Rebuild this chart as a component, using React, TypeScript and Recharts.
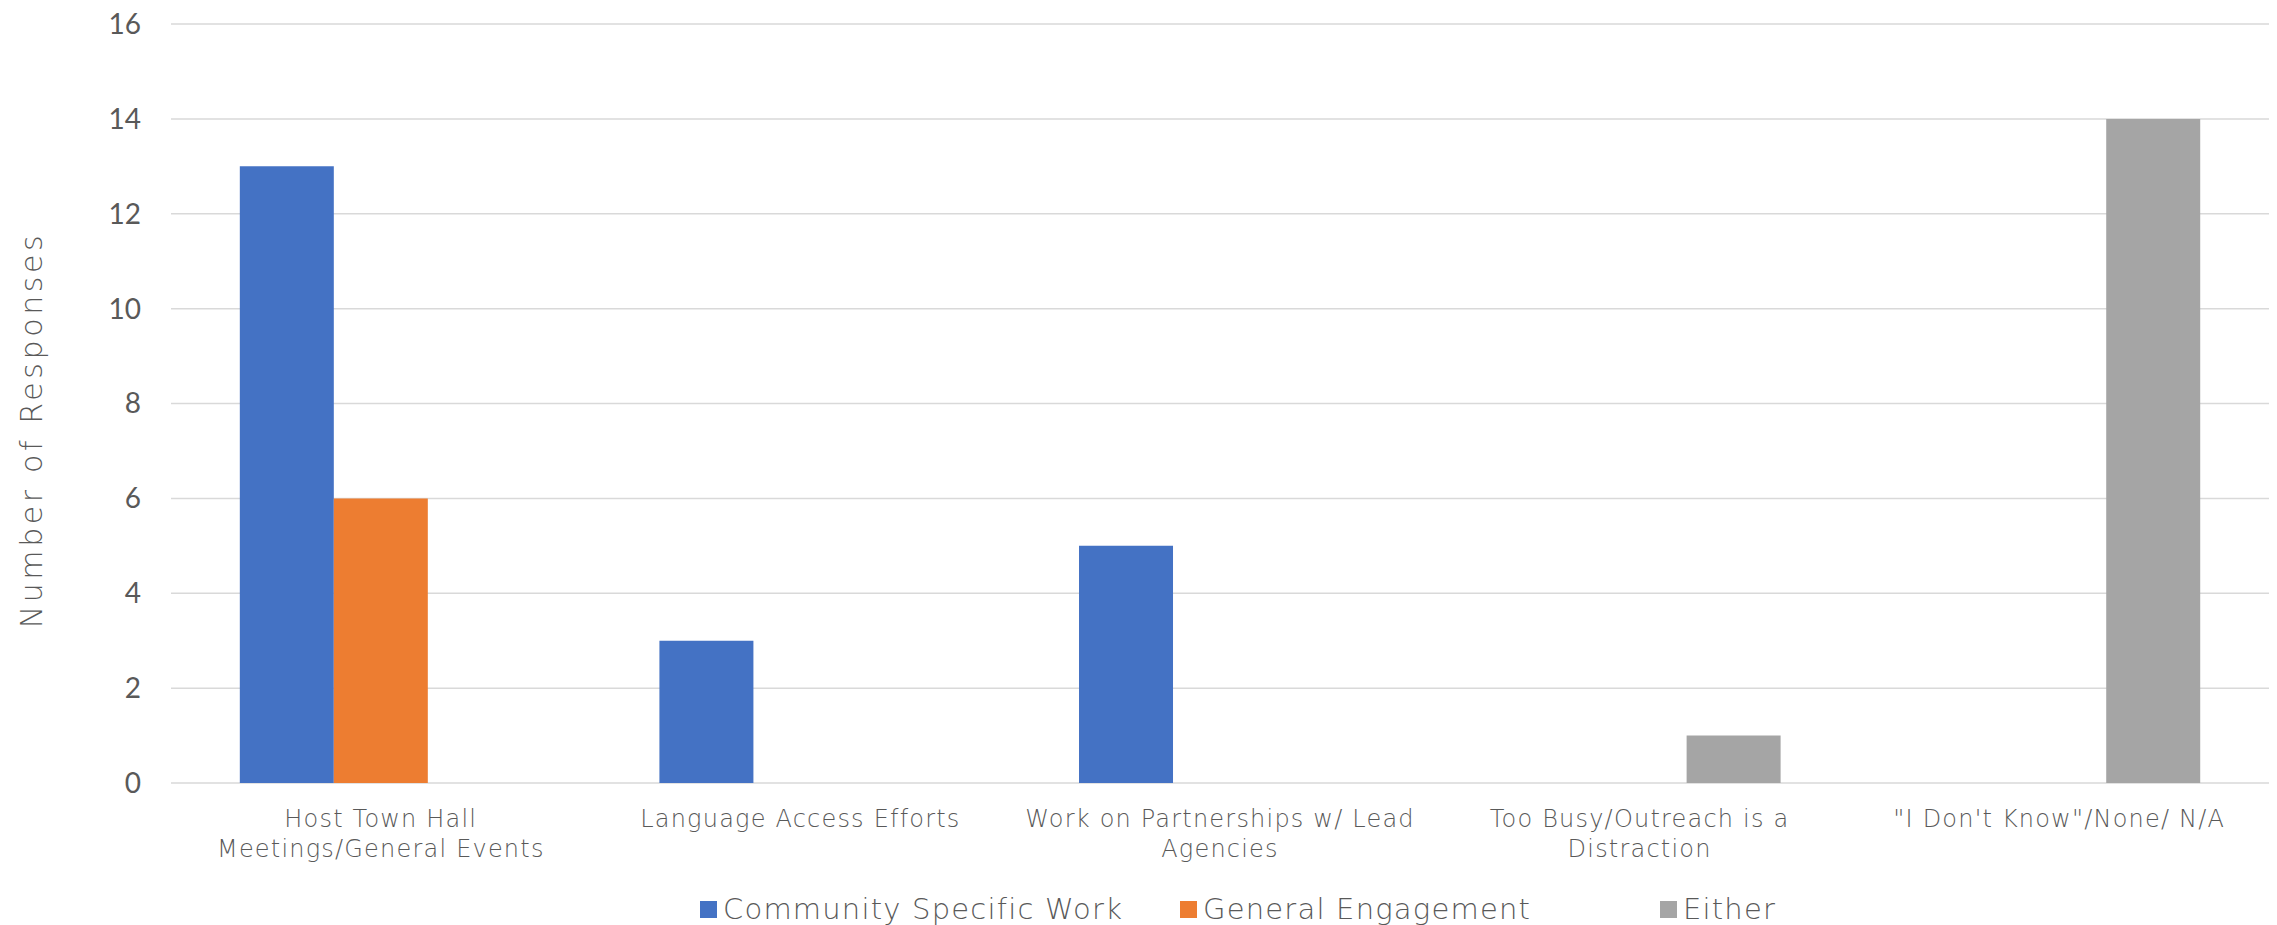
import React from 'react';
import { BarChart, Bar, XAxis, YAxis, CartesianGrid, Legend } from 'recharts';

// categories (line breaks follow the original wrapping)
const categories = [
  'Host Town Hall\nMeetings/General Events',
  'Language Access Efforts',
  'Work on Partnerships w/ Lead\nAgencies',
  'Too Busy/Outreach is a\nDistraction',
  '"I Don\'t Know"/None/ N/A',
];
const communitySpecific = [13, 3, 5, 0, 0];
const generalEngagement = [6, 0, 0, 0, 0];
const either = [0, 0, 0, 1, 14];
const yTicks = [0, 2, 4, 6, 8, 10, 12, 14, 16];

const series = [
  { key: 'community', name: 'Community Specific Work', color: '#4472C4' },
  { key: 'general', name: 'General Engagement', color: '#ED7D31' },
  { key: 'either', name: 'Either', color: '#A5A5A5' },
];

const data = categories.map((cat, i) => ({
  cat,
  community: communitySpecific[i],
  general: generalEngagement[i],
  either: either[i],
}));

const LIGHT = '"DejaVu Sans", sans-serif';
const TEXT = '#595959';

// x tick with manual line breaks
function CategoryTick({ x, y, payload }: any) {
  const lines = String(payload.value).split('\n');
  return (
    <text
      x={x}
      y={y}
      textAnchor="middle"
      fill={TEXT}
      fontFamily={LIGHT}
      fontWeight={200}
      fontSize={24}
      letterSpacing={1.2}
    >
      {lines.map((line, i) => (
        <tspan key={i} x={x} dy={i === 0 ? 44 : 29.5}>
          {line}
        </tspan>
      ))}
    </text>
  );
}

const yTitle = () => (
  <text
    x={42}
    y={430}
    transform="rotate(-90 42 430)"
    textAnchor="middle"
    fill={TEXT}
    fontFamily={LIGHT}
    fontWeight={200}
    fontSize={30}
    letterSpacing={3.6}
  >
    Number of Responses
  </text>
);

// Excel-style legend: equal width entries
const renderLegend = () => (
  <div style={{ display: 'flex', paddingLeft: 700, height: 45, alignItems: 'center', position: 'relative', top: 7 }}>
    {series.map(s => (
      <div key={s.key} style={{ width: 480, display: 'flex', alignItems: 'center' }}>
        <span style={{ width: 17, height: 17, background: s.color, marginRight: 6, display: 'inline-block' }} />
        <span
          style={{
            fontFamily: LIGHT,
            fontWeight: 200,
            fontSize: 29,
            letterSpacing: 1.2,
            color: TEXT,
            lineHeight: '45px',
          }}
        >
          {s.name}
        </span>
      </div>
    ))}
  </div>
);

export default function App() {
  return (
    <div style={{ position: 'absolute', left: 0, top: 0, width: 2277, height: 925, background: '#fff' }}>
      <BarChart
        width={2277}
        height={925}
        data={data}
        margin={{ top: 24, right: 8, left: 0, bottom: 0 }}
        barGap={0}
        barCategoryGap="16.4%"
      >
        <CartesianGrid vertical={false} stroke="#D9D9D9" strokeWidth={1.5} />
        <XAxis
          dataKey="cat"
          height={97}
          axisLine={false}
          tickLine={false}
          tickSize={0}
          tickMargin={0}
          interval={0}
          tick={<CategoryTick />}
        />
        <YAxis
          width={171}
          domain={[0, 16]}
          ticks={yTicks}
          axisLine={false}
          tickLine={false}
          tickSize={0}
          tickMargin={30}
          tick={{ fill: TEXT, fontSize: 28, fontFamily: 'Lato, sans-serif' }}
          label={yTitle}
        />
        <Legend
          verticalAlign="bottom"
          content={renderLegend}
          wrapperStyle={{ left: 0, bottom: 0, width: 2277, height: 45 }}
        />
        {series.map(s => (
          <Bar key={s.key} dataKey={s.key} name={s.name} fill={s.color} isAnimationActive={false} />
        ))}
      </BarChart>
    </div>
  );
}
